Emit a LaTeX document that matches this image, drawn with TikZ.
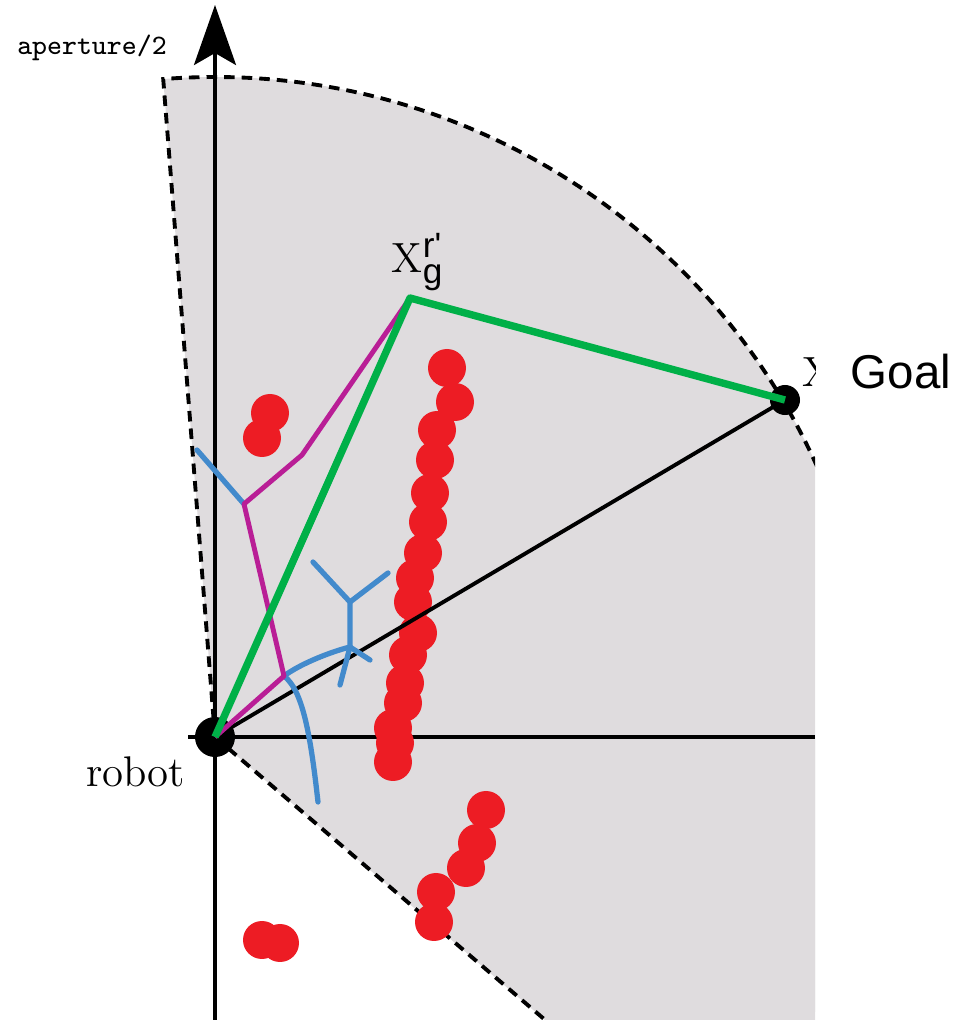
\documentclass[tikz,border=0pt]{standalone}
\usepackage{fontspec}
\newfontfamily\arialfont{Liberation Sans}
\usetikzlibrary{arrows.meta,positioning}
\definecolor{sectorgray}{RGB}{223,220,222}
\definecolor{obstred}{RGB}{237,28,36}
\definecolor{pathgreen}{RGB}{0,176,72}
\definecolor{pathmagenta}{RGB}{185,30,150}
\definecolor{treeblue}{RGB}{66,138,204}

\begin{document}
\begin{tikzpicture}[x=0.01cm, y=0.01cm, every node/.style={inner sep=0pt},
  fov/.style={dash pattern=on 3pt off 2pt, line width=1.1pt},
  axis/.style={line width=0.9pt},
  obst/.style={fill=obstred},
  tree/.style={treeblue, line width=1.5pt, line cap=round},
  plan/.style={pathmagenta, line width=1.4pt, line join=round},
  best/.style={pathgreen, line width=2.1pt, line join=round},
  dot/.style={circle, fill=black}]
\useasboundingbox (0,0) rectangle (970,1020);
\coordinate (o) at (215,283);
% field of view, cut off on the right
\begin{scope}
\clip (0,0) rectangle (815,1020);
\fill[sectorgray] (o) -- ++(94.5:660) arc[start angle=94.5, end angle=-40.6, radius=660] -- cycle;
\fill[sectorgray] (o) -- (815,283) -- (815,0) -- (545,0) -- cycle;
\draw[fov] (o) -- ++(94.5:660) arc[start angle=94.5, end angle=15, radius=660];
\draw[fov] (o) -- ++(-40.6:700);
\coordinate (hx0) at (188,283);
\coordinate (hx1) at (815,283);
\draw[axis] (hx0) -- (hx1);
\node[font=\fontsize{12}{14}\selectfont, anchor=west] (goalx) at (802,648) {X};
\end{scope}
\coordinate (vy0) at (215,0);
\coordinate (vy1) at (215,1015);
\draw[axis, -{Stealth[length=0.6cm, width=0.42cm, inset=0.12cm]}] (vy0) -- (vy1);
\node[font=\ttfamily\fontsize{8}{10}\selectfont] (aper) at (92,972) {aperture/2};
% obstacles
\foreach \x/\y in {447/652, 455/618, 437/590, 435/560, 430/527, 428/498, 423/467,
  415/442, 413/418, 418/387, 408/365, 405/337, 403/317, 393/292, 395/277, 393/258,
  486/210, 477/177, 466/152, 436/128, 434/98, 270/607, 262/582, 262/80, 280/77}
  \fill[obst] (\x,\y) circle[radius=19];
\node[dot, minimum size=0.4cm] (robot) at (o) {};
\node[dot, minimum size=0.3cm] (goal) at (785,620) {};
\coordinate (xg) at (410,722);
\draw[line width=1.1pt] (robot.center) -- (goal.center);
% tree branches
\coordinate (m1) at (284,344);
\coordinate (m2) at (244,516);
\coordinate (m3) at (302,565);
\coordinate (t1) at (350,373);
\coordinate (t2) at (350,418);
\coordinate (b1) at (197,570);
\coordinate (b2) at (318,218);
\coordinate (b3) at (313,458);
\coordinate (b4) at (388,447);
\coordinate (b5) at (340,335);
\coordinate (b6) at (370,360);
\draw[tree] (b1) -- (m2);
\draw[tree] (m1) .. controls (300,356) and (330,368) .. (t1);
\draw[tree] (m1) .. controls (302,330) and (310,290) .. (b2);
\draw[tree] (t1) -- (t2) -- (b3);
\draw[tree] (t2) -- (b4);
\draw[tree] (t1) -- (b5);
\draw[tree] (t1) -- (b6);
\draw[plan] (robot.center) -- (m1) -- (m2) -- (m3) -- (xg);
\draw[best] (robot.center) -- (xg) -- (goal.center);
% labels
\node[font=\fontsize{12.2}{14}\selectfont, anchor=base east] (robotlbl) at (186,233) {robot};
\node[font=\fontsize{12}{14}\selectfont] (xglbl) at (418,758)
  {$\mathrm{X}_{\mbox{\arialfont\fontsize{10}{10}\selectfont g}}^{\mbox{\arialfont\fontsize{10}{10}\selectfont r'}}$};
\node[font=\arialfont\fontsize{13.5}{16}\selectfont, anchor=west] (goallbl) at (850,648) {Goal};
\end{tikzpicture}
\end{document}
